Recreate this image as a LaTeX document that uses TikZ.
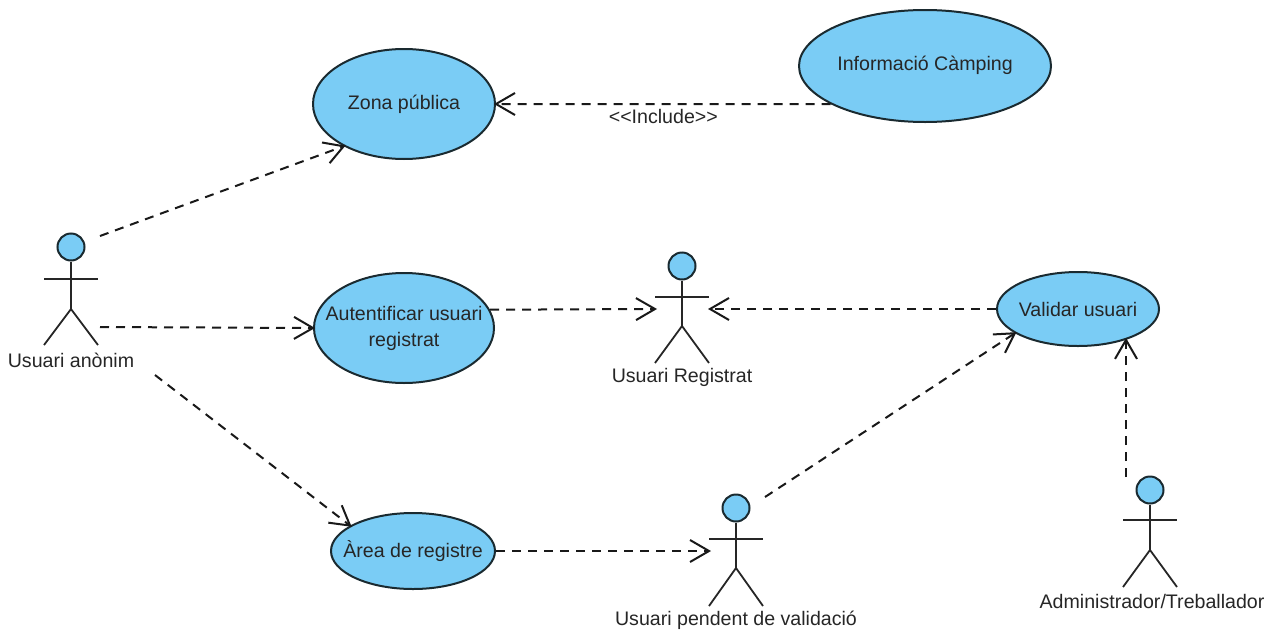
\documentclass[tikz,border=0pt]{standalone}
\usepackage{fontspec}
\setmainfont{Liberation Sans}
\usetikzlibrary{arrows.meta,shapes.geometric}
\definecolor{uc}{HTML}{7ACCF5}
\definecolor{ln}{HTML}{1A2A30}
\tikzset{
  usecase/.style 2 args={ellipse,draw=ln,line width=2pt,fill=uc,inner sep=0pt,minimum width=#1,minimum height=#2},
  uctext/.style={align=center,font=\fontsize{19.6}{26}\selectfont,text=black!85,inner sep=0pt},
  head/.style={circle,draw=ln,line width=2pt,fill=uc,inner sep=0pt,minimum size=27pt},
  limb/.style={draw=black!85,line width=1.8pt},
  actorlabel/.style={font=\fontsize{19.6}{24}\selectfont,text=black!85,inner sep=0pt},
  dep/.style={draw=black!90,line width=2pt,dash pattern=on 9pt off 7pt},
  deptip/.style={dep,shorten >=-2pt,-{Straight Barb[length=19pt,width=22pt,line width=2pt]}},
}
\newcommand{\actor}[6]{% name, cx, head y, arm y, hip y, foot y
  \node[head] (#1) at (#2,#3) {};
  \draw[limb] (#1.south) -- (#2,#5);
  \draw[limb] (#2-27,#4) -- (#2+27,#4);
  \draw[limb] (#2-27,#6) -- (#2,#5) -- (#2+27,#6);
}
\begin{document}
\begin{tikzpicture}[x=1pt,y=-1pt]
\useasboundingbox (0,0) rectangle (1276,632);
% use cases
\node[usecase={182pt}{110pt},label={[uctext]center:Zona pública}] (zona) at (404,104) {};
\node[usecase={252pt}{112pt},label={[uctext,yshift=1pt]center:Informació Càmping}] (info) at (925,66) {};
\node[usecase={180pt}{110pt},label={[uctext]center:Autentificar usuari\\registrat}] (aut) at (404,328) {};
\node[usecase={164pt}{76pt},label={[uctext]center:Àrea de registre}] (area) at (413,551) {};
\node[usecase={162pt}{74pt},label={[uctext]center:Validar usuari}] (val) at (1078,309) {};
% actors
\actor{anon}{71}{247}{279}{309}{345}
\actor{reg}{682}{266}{297}{326}{363}
\actor{pend}{736}{508}{539}{568}{606}
\actor{admin}{1150}{490}{520}{550}{587}
\node[actorlabel] (lanon) at (71,360) {Usuari anònim};
\node[actorlabel] (lreg) at (682,377) {Usuari Registrat};
\node[actorlabel] (lpend) at (736,620) {Usuari pendent de validació};
\node[actorlabel] (ladmin) at (1152,601) {Administrador/Treballador};
% free ends
\coordinate (a1) at (100,236);
\coordinate (a2) at (100,327);
\coordinate (a3) at (155,375);
\coordinate (rl) at (655,309);
\coordinate (rr) at (710,309);
\coordinate (pl) at (709,551);
\coordinate (pr) at (765,497);
\coordinate (ad) at (1126,477);
% connectors
\draw[deptip] (info.202) -- (zona.0) node[pos=0.5,below=4pt,inner sep=0pt,font=\fontsize{19.6}{22}\selectfont,text=black!85] (inc) {<{}<Include>{}>};
\draw[deptip] (a1) -- (zona.215);
\draw[deptip] (a2) -- (aut.west);
\draw[deptip] (a3) -- (area.158.5);
\draw[deptip] (aut.12.3) -- (rl);
\draw[deptip] (val.west) -- (rr);
\draw[deptip] (area.east) -- (pl);
\draw[deptip] (pr) -- (val.201.8);
\draw[deptip] (ad) -- (ad |- val.-33.7);
\end{tikzpicture}
\end{document}
